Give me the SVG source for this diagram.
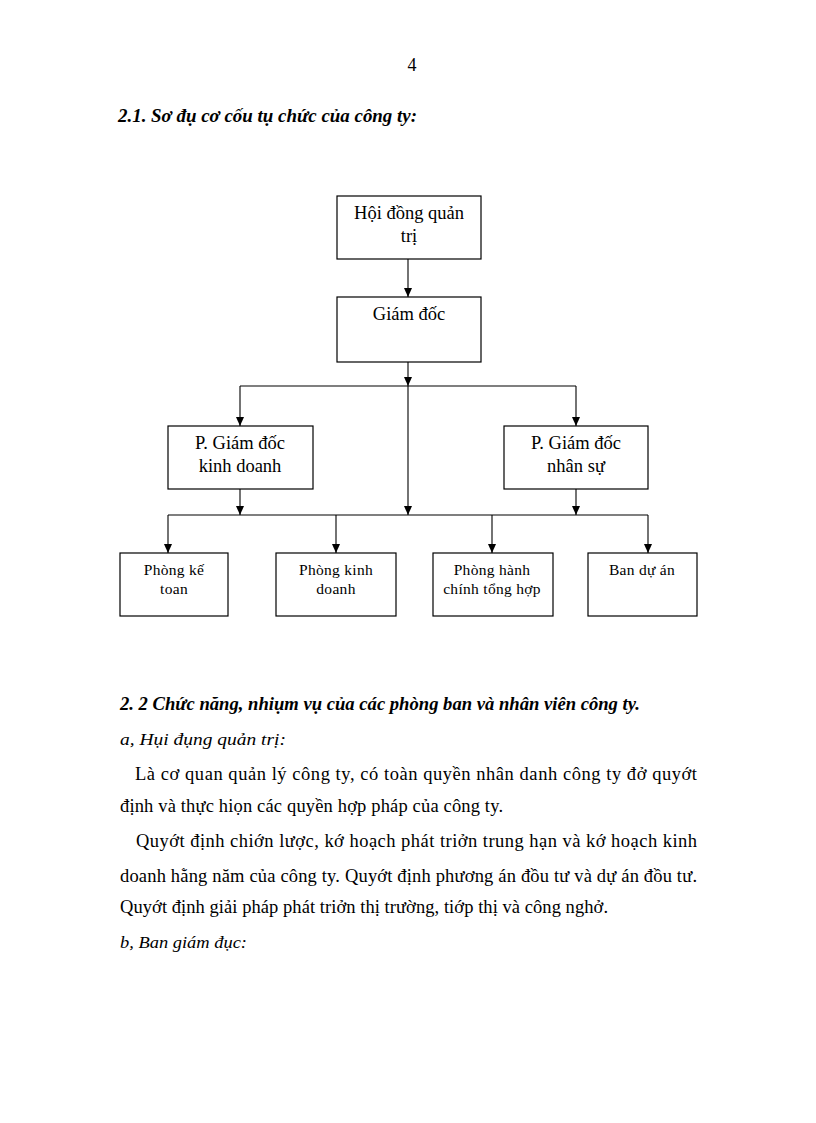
<svg xmlns="http://www.w3.org/2000/svg" width="816" height="1123" viewBox="0 0 816 1123">
<defs>
<style>
.t{font-family:"Liberation Serif","Times New Roman",serif;fill:#000}
.box{fill:#fff;stroke:#000;stroke-width:1.2}
.lbl{font-size:18.5px;text-anchor:middle}
.sm{font-size:15.5px;text-anchor:middle;letter-spacing:0.3px}
.hd{font-weight:bold;font-style:italic;font-size:18px}
.it{font-style:italic;font-size:17px}
.body{font-size:18.5px}
.ln{stroke:#000;stroke-width:1.1;fill:none}
</style>
<marker id="ah" markerWidth="9" markerHeight="8" refX="9" refY="4" orient="auto" markerUnits="userSpaceOnUse" viewBox="0 0 9 8">
<path d="M0,0 L9,4 L0,8 Z" fill="#000"/>
</marker>
</defs>
<rect width="816" height="1123" fill="#fff"/>
<text class="t" x="412" y="71" font-size="18" text-anchor="middle">4</text>
<text class="t hd" x="118" y="122" textLength="299" lengthAdjust="spacingAndGlyphs">2.1. Sơ đụ cơ cốu tụ chức của công ty:</text>

<g id="connectors">
<line class="ln" x1="408" y1="259" x2="408" y2="297" marker-end="url(#ah)"/>
<line class="ln" x1="408" y1="362" x2="408" y2="386" marker-end="url(#ah)"/>
<line class="ln" x1="240" y1="386" x2="576" y2="386"/>
<line class="ln" x1="240" y1="386" x2="240" y2="426" marker-end="url(#ah)"/>
<line class="ln" x1="576" y1="386" x2="576" y2="426" marker-end="url(#ah)"/>
<line class="ln" x1="408" y1="386" x2="408" y2="515" marker-end="url(#ah)"/>
<line class="ln" x1="240" y1="489" x2="240" y2="515" marker-end="url(#ah)"/>
<line class="ln" x1="576" y1="489" x2="576" y2="515" marker-end="url(#ah)"/>
<line class="ln" x1="168" y1="515" x2="648" y2="515"/>
<line class="ln" x1="168" y1="515" x2="168" y2="553" marker-end="url(#ah)"/>
<line class="ln" x1="336" y1="515" x2="336" y2="553" marker-end="url(#ah)"/>
<line class="ln" x1="492" y1="515" x2="492" y2="553" marker-end="url(#ah)"/>
<line class="ln" x1="648" y1="515" x2="648" y2="553" marker-end="url(#ah)"/>
</g>

<g id="hoi-dong-quan-tri">
<rect class="box" x="337" y="196" width="144" height="63"/>
<text class="t lbl" x="409" y="219">Hội đồng quản</text>
<text class="t lbl" x="409" y="242">trị</text>
</g>
<g id="giam-doc">
<rect class="box" x="337" y="297" width="144" height="65"/>
<text class="t lbl" x="409" y="320">Giám đốc</text>
</g>
<g id="pgd-kinh-doanh">
<rect class="box" x="168" y="426" width="145" height="63"/>
<text class="t lbl" x="240" y="449">P. Giám đốc</text>
<text class="t lbl" x="240" y="472">kinh doanh</text>
</g>
<g id="pgd-nhan-su">
<rect class="box" x="504" y="426" width="144" height="63"/>
<text class="t lbl" x="576" y="449">P. Giám đốc</text>
<text class="t lbl" x="576" y="472">nhân sự</text>
</g>
<g id="phong-ke-toan">
<rect class="box" x="120" y="553" width="108" height="63"/>
<text class="t sm" x="174" y="575">Phòng kế</text>
<text class="t sm" x="174" y="594">toan</text>
</g>
<g id="phong-kinh-doanh">
<rect class="box" x="276" y="553" width="120" height="63"/>
<text class="t sm" x="336" y="575">Phòng kinh</text>
<text class="t sm" x="336" y="594">doanh</text>
</g>
<g id="phong-hanh-chinh">
<rect class="box" x="433" y="553" width="120" height="63"/>
<text class="t sm" x="492" y="575">Phòng hành</text>
<text class="t sm" x="492" y="594">chính tổng hợp</text>
</g>
<g id="ban-du-an">
<rect class="box" x="588" y="553" width="109" height="63"/>
<text class="t sm" x="642" y="575">Ban dự án</text>
</g>

<text class="t hd" x="120" y="710" textLength="520" lengthAdjust="spacingAndGlyphs">2. 2 Chức năng, nhiụm vụ của các phòng ban và nhân viên công ty.</text>
<text class="t it" x="120" y="745" textLength="166" lengthAdjust="spacingAndGlyphs">a, Hụi đụng quản trị:</text>
<text class="t body" x="135" y="780" textLength="562" lengthAdjust="spacing">Là cơ quan quản lý công ty, có toàn quyền nhân danh công ty đở quyớt</text>
<text class="t body" x="120" y="812" textLength="383" lengthAdjust="spacing">định và thực hiọn các quyền hợp pháp của công ty.</text>
<text class="t body" x="136" y="847" textLength="561" lengthAdjust="spacing">Quyớt định chiớn lược, kớ hoạch phát triởn trung hạn và kớ hoạch kinh</text>
<text class="t body" x="120" y="882" textLength="577" lengthAdjust="spacing">doanh hằng năm của công ty. Quyớt định phương án đồu tư và dự án đồu tư.</text>
<text class="t body" x="120" y="913" textLength="488" lengthAdjust="spacing">Quyớt định giải pháp phát triởn thị trường, tiớp thị và công nghở.</text>
<text class="t it" x="120" y="948" textLength="127" lengthAdjust="spacingAndGlyphs">b, Ban giám đục:</text>
</svg>
